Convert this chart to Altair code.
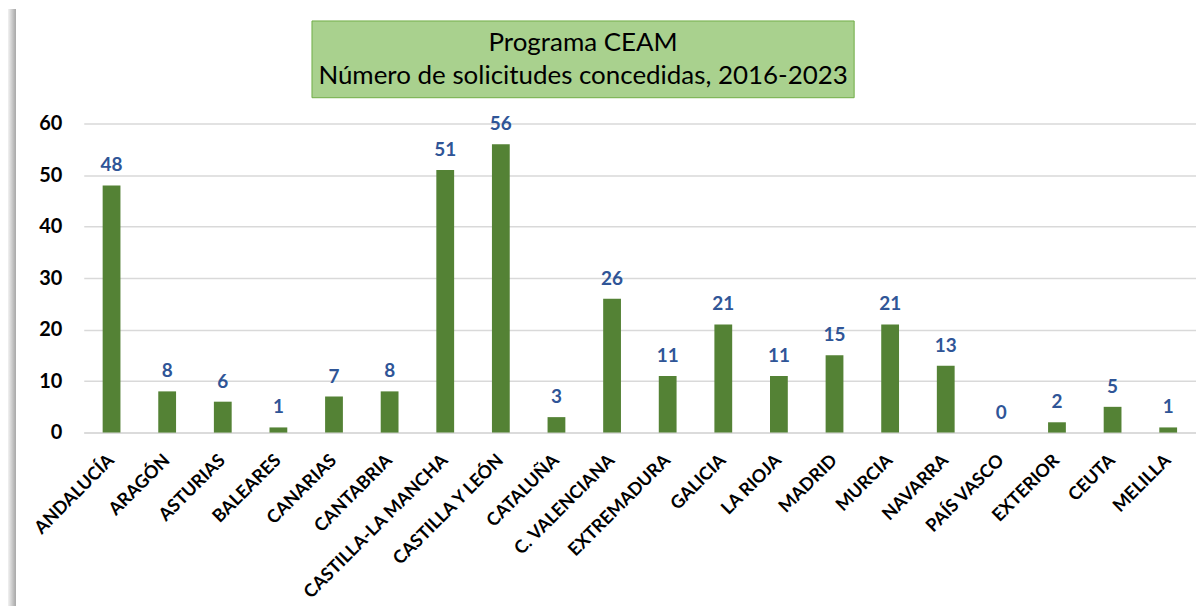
import altair as alt
import pandas as pd

regions = ["ANDALUCÍA", "ARAGÓN", "ASTURIAS", "BALEARES", "CANARIAS", "CANTABRIA",
           "CASTILLA-LA MANCHA", "CASTILLA Y LEÓN", "CATALUÑA", "C. VALENCIANA",
           "EXTREMADURA", "GALICIA", "LA RIOJA", "MADRID", "MURCIA", "NAVARRA",
           "PAÍS VASCO", "EXTERIOR", "CEUTA", "MELILLA"]
values = [48, 8, 6, 1, 7, 8, 51, 56, 3, 26, 11, 21, 11, 15, 21, 13, 0, 2, 5, 1]
title_lines = ["Programa CEAM", "Número de solicitudes concedidas, 2016-2023"]

df = pd.DataFrame({"region": regions, "value": values})
FONT = "Lato"

x_enc = alt.X("region:N", sort=regions,
              scale=alt.Scale(paddingInner=0.68, paddingOuter=0.34),
              axis=alt.Axis(title=None, labelAngle=-45, labelAlign="right",
                            labelBaseline="middle", labelFont=FONT, labelFontSize=18,
                            labelFontWeight="bold", labelColor="#000000",
                            labelPadding=25, ticks=False, domain=True,
                            domainColor="#d9d9d9", domainWidth=1.5, grid=False,
                            labelOverlap=False, labelLimit=400))
y_enc = alt.Y("value:Q", scale=alt.Scale(domain=[0, 60], nice=False),
              axis=alt.Axis(title=None, values=[0, 10, 20, 30, 40, 50, 60],
                            labelFont=FONT, labelFontSize=20, labelFontWeight="bold",
                            labelColor="#000000", labelPadding=22, ticks=False,
                            domain=False, gridColor="#d9d9d9", gridWidth=1.5))

bars = alt.Chart(df).mark_bar(color="#548235").encode(x=x_enc, y=y_enc)

labels = alt.Chart(df).mark_text(baseline="bottom", dy=-10, font=FONT, fontSize=19,
                                 fontWeight="bold", color="#2f5597").encode(
    x=alt.X("region:N", sort=regions), y="value:Q", text="value:Q")

box_df = pd.DataFrame({"a": [0]})
box = alt.Chart(box_df).mark_rect(fill="#a9d18e", stroke="#70ad47", strokeWidth=1).encode(
    x=alt.value(229), x2=alt.value(773), y=alt.value(-103), y2=alt.value(-26))

title_df = pd.DataFrame({"t": title_lines, "yy": [-81, -48]})
title = alt.Chart(title_df).mark_text(font=FONT, fontSize=26, color="#000000",
                                      align="center", baseline="middle").encode(
    x=alt.value(501), y=alt.Y("yy:Q", scale=None), text="t:N")

frame = alt.Chart(box_df).mark_rect(
    color=alt.LinearGradient(gradient="linear", x1=0, x2=1, y1=0, y2=0,
                             stops=[alt.GradientStop(color="#f2f2f2", offset=0),
                                    alt.GradientStop(color="#a6a6a6", offset=1)])
).encode(x=alt.value(-76), x2=alt.value(-68), y=alt.value(-115), y2=alt.value(484))

chart = alt.layer(frame, box, title, bars, labels).properties(
    width=1116, height=310,
    padding={"left": 76, "top": 115, "right": 0, "bottom": 174},
    autosize=alt.AutoSizeParams(type="none"),
    background="#ffffff"
).configure_view(stroke=None)

chart.save("out.html", embed_options={"renderer": "svg", "actions": False})
